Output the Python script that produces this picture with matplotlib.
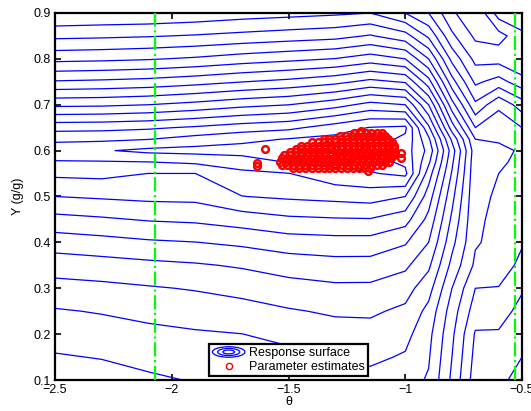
import numpy as np
import matplotlib
matplotlib.use("Agg")
import matplotlib.pyplot as plt
from matplotlib.legend_handler import HandlerBase
from matplotlib.lines import Line2D
from matplotlib.patches import Ellipse

plt.rcParams["font.family"] = ["Liberation Sans", "DejaVu Sans"]

# response surface sampled on a coarse (theta, Y) grid
theta_grid = [-2.5, -2.3, -2.1, -1.9, -1.7, -1.5, -1.3, -1.15, -1.0, -0.9, -0.8, -0.7, -0.6, -0.5]
y_grid = [0.10, 0.15, 0.20, 0.25, 0.30, 0.35, 0.40, 0.45, 0.50, 0.55, 0.575,
          0.60, 0.625, 0.65, 0.70, 0.75, 0.80, 0.85, 0.90]
surface = [
    [9.60, 9.45, 9.16, 8.94, 8.83, 8.67, 8.40, 8.28, 8.60, 9.10, 11.2, 13.5, 13.6, 14.6],
    [9.09, 8.95, 8.71, 8.53, 8.42, 8.25, 7.90, 7.81, 8.10, 8.90, 11.0, 13.3, 13.4, 14.0],
    [8.58, 8.45, 8.25, 8.11, 8.01, 7.74, 7.40, 7.35, 7.70, 8.70, 10.8, 13.1, 13.1, 13.6],
    [8.09, 7.93, 7.72, 7.55, 7.38, 7.09, 6.87, 6.85, 7.20, 8.30, 10.5, 12.5, 12.6, 13.3],
    [7.36, 7.25, 7.09, 6.93, 6.69, 6.39, 6.20, 6.21, 6.60, 7.60, 10.0, 12.0, 12.05, 12.9],
    [6.55, 6.41, 6.25, 6.11, 5.89, 5.56, 5.38, 5.39, 5.80, 6.80, 9.30, 11.2, 11.4, 12.3],
    [5.53, 5.35, 5.14, 5.02, 4.80, 4.48, 4.38, 4.39, 4.90, 6.00, 8.70, 10.9, 11.3, 11.9],
    [4.31, 4.13, 3.92, 3.82, 3.53, 3.19, 3.09, 3.06, 3.60, 5.30, 8.20, 10.85, 11.2, 11.5],
    [3.00, 2.87, 2.75, 2.72, 2.02, 1.84, 1.70, 1.57, 2.00, 4.50, 7.70, 10.8, 11.1, 11.3],
    [1.80, 1.74, 2.01, 2.01, 1.23, 1.03, 0.33, 0.09, -0.25, 3.50, 7.10, 10.75, 11.0, 11.2],
    [1.09, 1.08, 1.02, 0.83, 0.50, -0.05, -0.30, -0.40, 0.20, 2.80, 6.80, 10.7, 10.9, 11.15],
    [0.35, 0.10, -0.25, -0.35, -0.40, -0.45, -0.50, -0.50, 0.50, 2.30, 6.50, 10.6, 10.8, 11.1],
    [1.25, 1.21, 1.03, 0.61, 0.25, -0.05, -0.30, -0.45, 0.20, 2.80, 7.20, 11.0, 11.1, 11.3],
    [2.35, 2.30, 2.15, 1.86, 1.50, 1.24, 0.50, -0.05, -0.20, 3.80, 8.50, 12.0, 11.4, 12.0],
    [5.22, 5.17, 5.00, 4.69, 4.29, 4.01, 3.38, 2.67, 3.00, 6.00, 10.6, 13.8, 12.2, 13.5],
    [7.90, 7.80, 7.65, 7.37, 7.02, 6.72, 6.28, 5.72, 6.10, 8.60, 12.6, 15.2, 14.6, 15.6],
    [10.29, 10.21, 10.08, 9.86, 9.52, 9.25, 8.97, 8.50, 9.00, 11.0, 14.3, 16.3, 16.4, 17.0],
    [12.24, 12.17, 12.07, 11.92, 11.72, 11.52, 11.33, 10.91, 11.6, 13.2, 15.8, 17.2, 17.4, 16.3],
    [14.00, 13.90, 13.86, 13.71, 13.48, 13.33, 13.17, 13.00, 14.0, 15.0, 16.8, 18.0, 15.5, 15.0],
]
contour_levels = list(range(0, 20))

# parameter estimates, stored row by row (Y value, theta values)
est_row_y = [0.562, 0.569, 0.576, 0.583, 0.590, 0.597, 0.604, 0.611, 0.618, 0.625, 0.632, 0.638]
est_row_theta = [
    [-1.48, -1.455, -1.43, -1.40, -1.375, -1.35, -1.325, -1.30, -1.275, -1.25, -1.225, -1.20, -1.175, -1.15],
    [-1.53, -1.505, -1.48, -1.455, -1.43, -1.40, -1.375, -1.35, -1.325, -1.30, -1.27, -1.245, -1.22,
     -1.195, -1.17, -1.145, -1.12, -1.10],
    [-1.535, -1.51, -1.49, -1.465, -1.44, -1.415, -1.39, -1.365, -1.34, -1.315, -1.29, -1.26, -1.235,
     -1.21, -1.185, -1.16, -1.135, -1.11, -1.085, -1.07],
    [-1.53, -1.505, -1.48, -1.455, -1.43, -1.405, -1.38, -1.355, -1.33, -1.305, -1.28, -1.255, -1.23,
     -1.205, -1.18, -1.155, -1.13, -1.105, -1.08, -1.06],
    [-1.52, -1.495, -1.47, -1.445, -1.42, -1.395, -1.37, -1.345, -1.32, -1.295, -1.27, -1.245, -1.22,
     -1.195, -1.17, -1.145, -1.12, -1.095, -1.07, -1.05],
    [-1.495, -1.47, -1.445, -1.42, -1.395, -1.37, -1.345, -1.285, -1.26, -1.235, -1.21, -1.185, -1.16,
     -1.135, -1.11, -1.085, -1.06, -1.045],
    [-1.47, -1.445, -1.42, -1.395, -1.37, -1.345, -1.32, -1.30, -1.275, -1.25, -1.225, -1.20, -1.175,
     -1.15, -1.125, -1.10, -1.075, -1.05],
    [-1.445, -1.42, -1.395, -1.37, -1.345, -1.32, -1.295, -1.27, -1.245, -1.22, -1.195, -1.17, -1.145,
     -1.12, -1.095, -1.07, -1.05],
    [-1.40, -1.375, -1.35, -1.325, -1.30, -1.275, -1.25, -1.225, -1.20, -1.175, -1.15, -1.125, -1.10,
     -1.075, -1.055],
    [-1.35, -1.325, -1.30, -1.275, -1.25, -1.225, -1.20, -1.175, -1.15, -1.125, -1.10, -1.075],
    [-1.28, -1.255, -1.23, -1.205, -1.18, -1.155, -1.13, -1.105, -1.085],
    [-1.22, -1.195, -1.17, -1.145, -1.12, -1.10],
]
# scattered estimates away from the main cloud
outlier_theta = [-1.635, -1.633, -1.60, -1.19, -1.02, -1.02, -1.16]
outlier_y = [0.573, 0.566, 0.604, 0.642, 0.595, 0.584, 0.556]

# bounds drawn as dashed vertical lines
bound_theta = [-2.07, -0.53]


class ContourIcon(HandlerBase):
    def create_artists(self, legend, orig_handle, xdescent, ydescent,
                       width, height, fontsize, trans):
        cx = width / 2 - xdescent
        cy = height / 2 - ydescent
        rings = []
        for f in (1.0, 0.68, 0.36):
            e = Ellipse((cx, cy), width * f, height * 1.2 * f, fill=False,
                        edgecolor="blue", lw=0.9, transform=trans)
            rings.append(e)
        return rings


est_theta = []
est_y = []
for yv, row in zip(est_row_y, est_row_theta):
    est_theta.extend(row)
    est_y.extend([yv] * len(row))
est_theta.extend(outlier_theta)
est_y.extend(outlier_y)

fig = plt.figure(figsize=(5.31, 4.11), dpi=100)
ax = fig.add_axes([0.1036, 0.0754, 0.8795, 0.893])

T, Yg = np.meshgrid(theta_grid, y_grid)
cs = ax.contour(T, Yg, np.array(surface), levels=contour_levels,
                colors="blue", linewidths=0.9)

for bt in bound_theta:
    ax.axvline(bt, color="#00ff00", linestyle="-.", linewidth=1.6, zorder=3)

ax.plot(est_theta, est_y, "o", mfc="none", mec="red", ms=4.8, mew=1.8, zorder=4)

ax.set_xlim(-2.5, -0.5)
ax.set_ylim(0.1, 0.9)
ax.set_xticks([-2.5, -2, -1.5, -1, -0.5])
ax.set_xticklabels(["\u22122.5", "\u22122", "\u22121.5", "\u22121", "\u22120.5"])
ax.set_yticks([0.1, 0.2, 0.3, 0.4, 0.5, 0.6, 0.7, 0.8, 0.9])
ax.tick_params(direction="in", top=True, right=True, length=4, width=1.2,
               labelsize=9, pad=3)
for sp in ax.spines.values():
    sp.set_linewidth(1.6)

ax.set_xlabel("\u03b8", fontsize=9, labelpad=0)
ax.set_ylabel("Y (g/g)", fontsize=9, labelpad=7)

surf_handle = Line2D([], [], color="blue")
est_handle = Line2D([], [], linestyle="none", marker="o", mfc="none", mec="red",
                    ms=4.5, mew=1.0)
leg = ax.legend([surf_handle, est_handle], ["Response surface", "Parameter estimates"],
                handler_map={surf_handle: ContourIcon()},
                loc="lower center", bbox_to_anchor=(0.5, 0.01),
                fontsize=9, frameon=True, fancybox=False, framealpha=1,
                edgecolor="black", handlelength=2.6, handletextpad=0.3,
                borderpad=0.25, labelspacing=0.15, borderaxespad=0)
leg.get_frame().set_linewidth(1.6)

fig.savefig("out.png", dpi=100)
